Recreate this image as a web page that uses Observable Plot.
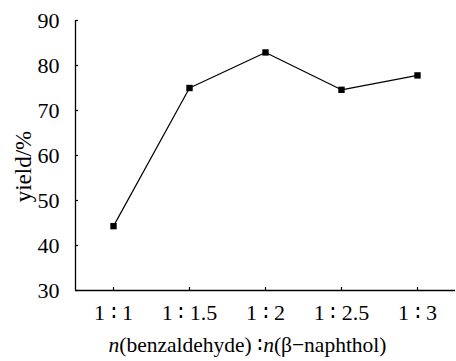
<!DOCTYPE html>
<html>
<head>
<meta charset="utf-8">
<script src="https://cdn.jsdelivr.net/npm/d3@7"></script>
<script src="https://cdn.jsdelivr.net/npm/@observablehq/plot@0.6"></script>
<style>
  html, body { margin: 0; padding: 0; background: #fff; }
</style>
</head>
<body>
<div id="chart"></div>
<script>
const ratios = ["1 ∶ 1", "1 ∶ 1.5", "1 ∶ 2", "1 ∶ 2.5", "1 ∶ 3"];
const yields = [44.3, 75.0, 82.9, 74.6, 77.8];
const yTicks = [30, 40, 50, 60, 70, 80, 90];
const yLabel = "yield/%";
const xLabelParts = [["n", true], ["(benzaldehyde) ∶", false], ["n", true], ["(β−naphthol)", false]];

const FONT = "'Liberation Serif', 'Times New Roman', 'DejaVu Serif', serif";
const data = ratios.map((r, i) => ({idx: i + 1, ratio: r, yield: yields[i]}));

const plot = Plot.plot({
  width: 456,
  height: 361,
  marginLeft: 75,
  marginRight: 1,
  marginTop: 20,
  marginBottom: 71,
  style: {color: "#000", background: "#fff"},
  x: {domain: [0.5, ratios.length + 0.5]},
  y: {domain: [30, 90]},
  marks: [
    Plot.ruleY([30], {stroke: "#000", strokeWidth: 1.3}),
    Plot.ruleX([0.5], {stroke: "#000", strokeWidth: 1.3}),
    Plot.axisY({ticks: yTicks, tickSize: -3, tickPadding: 13, label: null, stroke: "#000", strokeWidth: 1.2, fill: "#000", className: "yax"}),
    Plot.axisX({ticks: data.map(d => d.idx), tickFormat: i => ratios[i - 1], tickSize: -3, tickPadding: 17, label: null, stroke: "#000", strokeWidth: 1.2, fill: "#000", className: "xax"}),
    Plot.line(data, {x: "idx", y: "yield", stroke: "#000", strokeWidth: 1.2}),
    Plot.dot(data, {x: "idx", y: "yield", symbol: "square", r: 3.6, fill: "#000", stroke: "none"}),
    Plot.text([yLabel], {frameAnchor: "left", text: d => d, fill: "#000", className: "ylab"}),
    Plot.text(["xlabel"], {frameAnchor: "bottom", dy: 61, dx: -18, text: d => d, fill: "#000", className: "xlab"})
  ]
});
document.getElementById("chart").appendChild(plot);

const svg = d3.select(plot);
svg.selectAll("text").style("font-family", FONT).style("font-size", "22px").style("font-variant", "normal");

// nudge y tick labels a little further from the axis
svg.selectAll(".yax text").attr("dx", -6);

// y label: rotated, centred on the left margin
svg.select(".ylab text")
  .attr("x", null).attr("y", null)
  .attr("transform", "translate(22,166) rotate(-90)")
  .attr("text-anchor", "middle").attr("dy", "0.35em")
  .style("font-size", "23px");

// x label with italic "n"
const xl = svg.select(".xlab text");
xl.style("font-size", "21.5px").text(null);
for (const [t, it] of xLabelParts) {
  xl.append("tspan").text(t).attr("font-style", it ? "italic" : null);
}
</script>
</body>
</html>
